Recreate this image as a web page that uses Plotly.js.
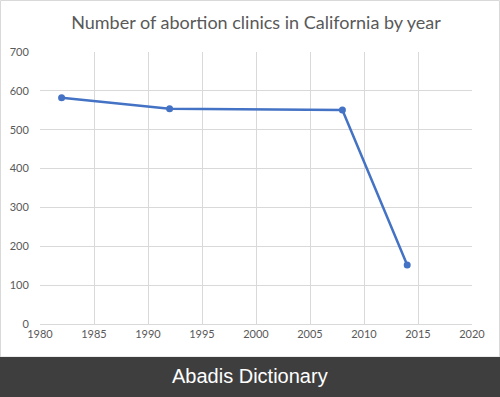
<!DOCTYPE html>
<html>
<head>
<meta charset="utf-8">
<script src="https://cdn.plot.ly/plotly-3.0.1.min.js"></script>
<style>html,body{margin:0;padding:0;background:#fff;}#chart{width:500px;height:397px;}</style>
</head>
<body>
<div id="chart"></div>
<script>
const years = [1982, 1992, 2008, 2014];
const clinics = [582, 554, 551, 152];
const xTicks = [1980, 1985, 1990, 1995, 2000, 2005, 2010, 2015, 2020];
const yTicks = [0, 100, 200, 300, 400, 500, 600, 700];
const titleText = "Number of abortion clinics in California by year";
const bannerText = "Abadis Dictionary";

const W = 500, H = 397;
const m = {l: 40, r: 28, t: 52, b: 73};
const pw = W - m.l - m.r, ph = H - m.t - m.b;
const px = x => (x - m.l) / pw;
const py = y => (H - m.b - y) / ph;

const trace = {
  x: years, y: clinics, type: 'scatter', mode: 'lines+markers',
  line: {color: '#4472C4', width: 2.5},
  marker: {color: '#4472C4', size: 7},
  hoverinfo: 'skip', cliponaxis: false
};

const layout = {
  width: W, height: H,
  margin: m,
  paper_bgcolor: '#ffffff', plot_bgcolor: '#ffffff',
  showlegend: false,
  font: {family: 'Lato, "Liberation Sans", sans-serif', color: '#595959', size: 11},
  title: {text: titleText, font: {size: 18, color: '#595959', family: 'Lato, "Liberation Sans", sans-serif'},
          x: 0.5, xref: 'paper', xanchor: 'center', y: 1 - 23 / H, yanchor: 'middle'},
  xaxis: {range: [1980, 2020], tickvals: xTicks, ticktext: xTicks.map(String),
          showgrid: true, gridcolor: '#d9d9d9', gridwidth: 1, zeroline: false,
          showline: true, linecolor: '#d9d9d9', linewidth: 1, ticks: '', fixedrange: true,
          tickfont: {size: 11, color: '#595959'}},
  yaxis: {range: [0, 700], tickvals: yTicks, ticktext: yTicks.map(String),
          showgrid: true, gridcolor: '#d9d9d9', gridwidth: 1, zeroline: false,
          showline: false, ticks: 'outside', ticklen: 8, tickcolor: 'rgba(0,0,0,0)', fixedrange: true,
          tickfont: {size: 11, color: '#595959'}},
  shapes: [
    {type: 'rect', xref: 'paper', yref: 'paper', layer: 'below',
     x0: px(0.5), x1: px(499.5), y0: py(0.5), y1: py(357),
     line: {color: '#d9d9d9', width: 1}, fillcolor: 'rgba(0,0,0,0)'},
    {type: 'rect', xref: 'paper', yref: 'paper', layer: 'above',
     x0: px(0), x1: px(500), y0: py(357), y1: py(397),
     line: {width: 0}, fillcolor: '#3f3e3f'}
  ],
  annotations: [
    {text: bannerText, xref: 'paper', yref: 'paper', x: px(250), y: py(376),
     xanchor: 'center', yanchor: 'middle', showarrow: false,
     font: {family: '"Liberation Sans", Arial, sans-serif', size: 20, color: '#ffffff'}}
  ]
};

Plotly.newPlot('chart', [trace], layout, {staticPlot: true, displayModeBar: false});
</script>
</body>
</html>
